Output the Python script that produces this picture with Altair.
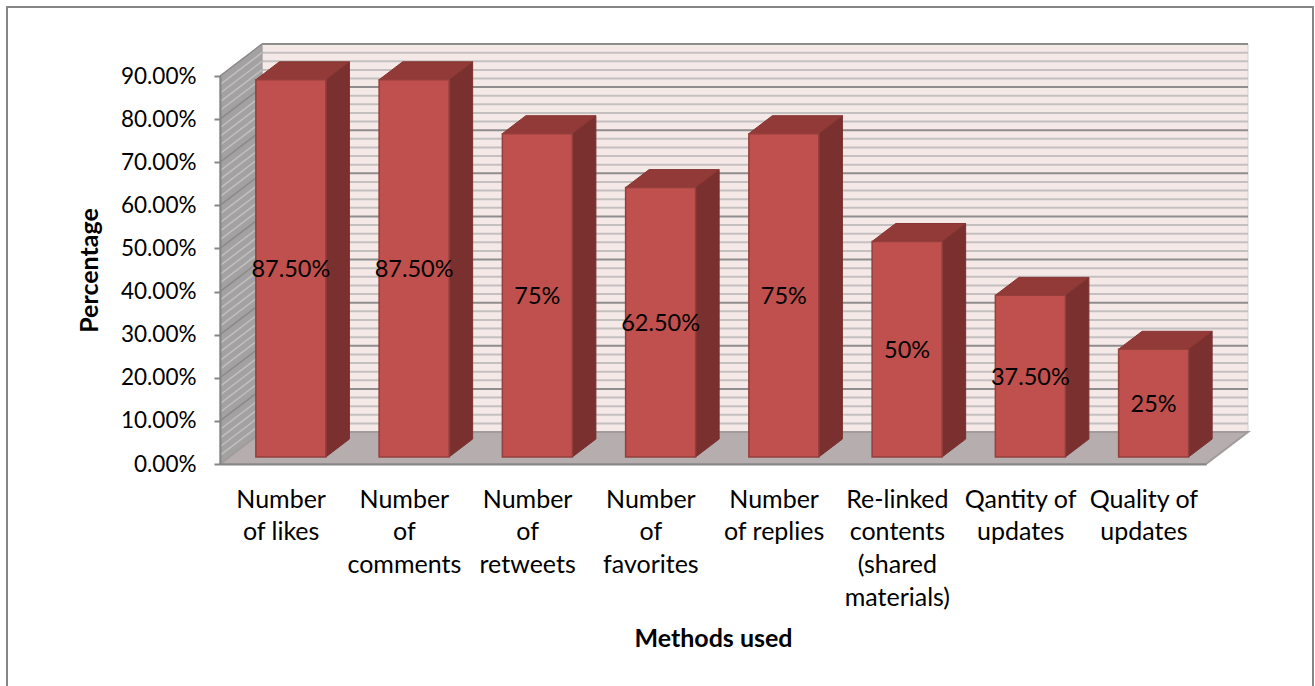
import json
import altair as alt
import pandas as pd

# Chart content
categories = [
    ["Number", "of likes"],
    ["Number", "of", "comments"],
    ["Number", "of", "retweets"],
    ["Number", "of", "favorites"],
    ["Number", "of replies"],
    ["Re-linked", "contents", "(shared", "materials)"],
    ["Qantity of", "updates"],
    ["Quality of", "updates"],
]
values = [0.875, 0.875, 0.75, 0.625, 0.75, 0.50, 0.375, 0.25]
value_labels = ["87.50%", "87.50%", "75%", "62.50%", "75%", "50%", "37.50%", "25%"]
major_ticks = [0.0, 0.1, 0.2, 0.3, 0.4, 0.5, 0.6, 0.7, 0.8, 0.9]
minor_ticks = [0.02, 0.04, 0.06, 0.08, 0.12, 0.14, 0.16, 0.18, 0.22, 0.24, 0.26, 0.28,
               0.32, 0.34, 0.36, 0.38, 0.42, 0.44, 0.46, 0.48, 0.52, 0.54, 0.56, 0.58,
               0.62, 0.64, 0.66, 0.68, 0.72, 0.74, 0.76, 0.78, 0.82, 0.84, 0.86, 0.88]

# Oblique projection: how far one full unit of depth shifts a point
DEPTH_X = 0.3408   # in category units
DEPTH_Y = 0.0742   # in value units
BAR_WIDTH = 0.568
BAR_NEAR = 0.22    # depth of a bar's front face
BAR_FAR = 0.78     # depth of a bar's back face

FONT = "Lato"
GREY = "#868686"
XMAX = len(categories)

x_scale = alt.Scale(domain=[0, XMAX], nice=False, zero=False)
y_scale = alt.Scale(domain=[0, 0.9], nice=False, zero=False)


def px(i_x, depth):
    return i_x + depth * DEPTH_X


def py(v, depth):
    return v + depth * DEPTH_Y


# Every layer shares one axis definition per channel
label_expr = "%s[round(datum.value - 0.5)]" % json.dumps(categories)
x_axis = alt.Axis(
    values=[i + 0.5 for i in range(XMAX)],
    labelExpr=label_expr,
    labelFont=FONT, labelFontSize=25, labelColor="black", labelLineHeight=32.7,
    labelBaseline="top", labelAlign="center", labelPadding=23, labelOffset=-1,
    labelOverlap=False, labelBound=False, labelFlush=False,
    ticks=False, grid=False, zindex=1,
    domainColor=GREY, domainWidth=2,
    titleFont=FONT, titleFontSize=25, titleFontWeight="bold", titleColor="black",
    titleY=162,
)
y_axis = alt.Axis(
    values=major_ticks, format=".2%",
    labelFont=FONT, labelFontSize=22.5, labelColor="black", labelPadding=18,
    tickColor=GREY, tickSize=6, tickWidth=2, zindex=1,
    domainColor=GREY, domainWidth=2, grid=False,
    titleFont=FONT, titleFontSize=25, titleFontWeight="bold", titleColor="black",
    titleX=-118,
)
X = alt.X("x:Q", scale=x_scale, title="Methods used", axis=x_axis)
Y = alt.Y("y:Q", scale=y_scale, title="Percentage", axis=y_axis)

# Outer frame around the whole figure
frame = alt.Chart(pd.DataFrame({"a": [0]})).mark_rect(
    fill="white", stroke=GREY, strokeWidth=2
).encode(x=alt.value(-213), x2=alt.value(1093), y=alt.value(-69), y2=alt.value(640))

# Back wall
back_wall = alt.Chart(pd.DataFrame({
    "x": [px(0, 1)], "x2": [px(XMAX, 1)], "y": [py(0, 1)], "y2": [py(0.9, 1)],
})).mark_rect(fill="#f5e9e8", stroke="#d9cfcf", strokeWidth=1).encode(
    x=X, x2="x2:Q", y=Y, y2="y2:Q"
)


def rules(levels):
    return pd.DataFrame({
        "x": [px(0, 1)] * len(levels),
        "x2": [px(XMAX, 1)] * len(levels),
        "y": [py(v, 1) for v in levels],
    })


back_minor = alt.Chart(rules(minor_ticks)).mark_rule(color="#c4c0c0", strokeWidth=2).encode(
    x=X, x2="x2:Q", y=Y
)
back_major = alt.Chart(rules(major_ticks[1:])).mark_rule(color="#8f8d8d", strokeWidth=2).encode(
    x=X, x2="x2:Q", y=Y
)

# Left wall
left_wall = alt.Chart(pd.DataFrame({
    "x": [px(0, 0), px(0, 1)],
    "y": [py(0, 0), py(0, 1)],
    "y2": [py(0.9, 0), py(0.9, 1)],
})).mark_area(fill="#a3a1a1", stroke="#9a9898", strokeWidth=1).encode(x=X, y=Y, y2="y2:Q")


def wall_lines(levels):
    rows = []
    for v in levels:
        rows.append({"x": px(0, 0), "y": py(v, 0), "level": v})
        rows.append({"x": px(0, 1), "y": py(v, 1), "level": v})
    return pd.DataFrame(rows)


left_minor = alt.Chart(wall_lines(minor_ticks)).mark_line(color="#c2bfbf", strokeWidth=1.5).encode(
    x=X, y=Y, detail="level:Q"
)
left_major = alt.Chart(wall_lines(major_ticks[1:])).mark_line(color="#8b8989", strokeWidth=1.5).encode(
    x=X, y=Y, detail="level:Q"
)

# Floor
floor = alt.Chart(pd.DataFrame({
    "y": [py(0, 0), py(0, 1)],
    "x": [px(0, 0), px(0, 1)],
    "x2": [px(XMAX, 0), px(XMAX, 1)],
})).mark_area(orient="horizontal", fill="#b6aeae", stroke="#a19c9c", strokeWidth=2).encode(
    x=X, x2="x2:Q", y=Y
)

# Bars: front, side and top faces
front_rows, side_rows, top_rows, label_rows = [], [], [], []
for i, (v, lab) in enumerate(zip(values, value_labels)):
    left = i + (1 - BAR_WIDTH) / 2
    right = left + BAR_WIDTH
    front_rows.append({
        "x": px(left, BAR_NEAR), "x2": px(right, BAR_NEAR),
        "y": py(0, BAR_NEAR), "y2": py(v, BAR_NEAR),
    })
    for d in (BAR_NEAR, BAR_FAR):
        side_rows.append({"bar": i, "x": px(right, d), "y": py(0, d), "y2": py(v, d)})
        top_rows.append({"bar": i, "x": px(left, d), "x2": px(right, d), "y": py(v, d)})
    label_rows.append({"x": px(i + 0.5, BAR_NEAR), "y": py(v / 2, BAR_NEAR), "text": lab})

side = alt.Chart(pd.DataFrame(side_rows)).mark_area(
    fill="#7a302e", stroke="#7a302e", strokeWidth=1
).encode(x=X, y=Y, y2="y2:Q", detail="bar:Q")

top = alt.Chart(pd.DataFrame(top_rows)).mark_area(
    orient="horizontal", fill="#923a38", stroke="#843432", strokeWidth=1
).encode(x=X, x2="x2:Q", y=Y, detail="bar:Q")

front = alt.Chart(pd.DataFrame(front_rows)).mark_rect(
    fill="#c0504d", stroke="#943f3c", strokeWidth=1.5
).encode(x=X, x2="x2:Q", y=Y, y2="y2:Q")

bar_text = alt.Chart(pd.DataFrame(label_rows)).mark_text(
    font=FONT, fontSize=23.5, color="black", align="center", baseline="middle", dy=2
).encode(x=X, y=Y, text="text:N")

chart = alt.layer(
    frame, back_wall, back_minor, back_major, left_wall, left_minor, left_major, floor,
    side, top, front, bar_text,
).properties(
    width=986,
    height=388,
    padding={"left": 220, "top": 76, "right": 109, "bottom": 222},
    autosize=alt.AutoSizeParams(type="none"),
    background="white",
).configure_view(stroke=None)

chart.save("out.html", embed_options={"renderer": "svg", "actions": False})
